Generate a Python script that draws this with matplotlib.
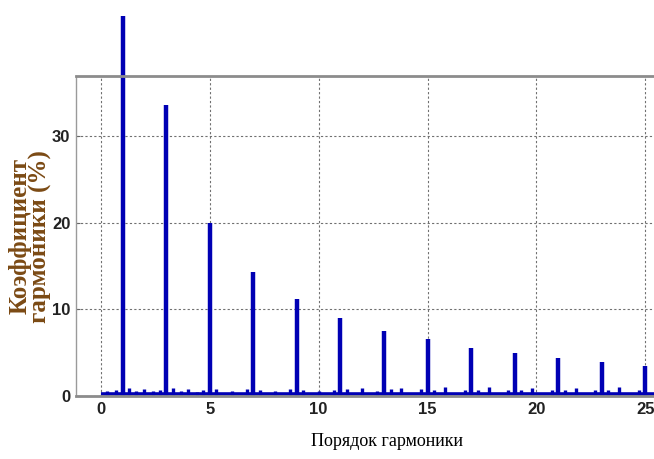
import matplotlib
matplotlib.use('Agg')
from matplotlib import pyplot as plt

# main (odd) harmonics
odd_orders = [1, 3, 5, 7, 9, 11, 13, 15, 17, 19, 21, 23, 25]
odd_values = [43.8, 33.6, 20.0, 14.3, 11.2, 9.0, 7.5, 6.6, 5.6, 5.0, 4.4, 3.9, 3.5]

# small components around the spectrum
small_orders = [0.3, 0.7, 1.3, 1.6, 2.0, 2.4, 2.7, 3.3, 3.7, 4.0, 4.4, 4.7, 5.3,
                6.0, 6.7, 7.3, 8.0, 8.7, 9.3, 10.0, 10.7, 11.3, 12.0, 12.7, 13.3,
                13.8, 14.7, 15.3, 15.8, 16.7, 17.3, 17.8, 18.7, 19.3, 19.8, 20.7,
                21.3, 21.8, 22.7, 23.3, 23.8, 24.7]
small_values = [0.6, 0.7, 0.9, 0.6, 0.8, 0.6, 0.7, 0.9, 0.6, 0.8, 0.5, 0.7, 0.8,
                0.6, 0.8, 0.7, 0.6, 0.8, 0.7, 0.6, 0.7, 0.8, 0.9, 0.6, 0.8,
                0.9, 0.8, 0.7, 1.0, 0.7, 0.7, 1.0, 0.7, 0.7, 0.9, 0.7,
                0.7, 0.9, 0.7, 0.7, 1.1, 0.7]
base_level = 0.2

x_ticks = [0, 5, 10, 15, 20, 25]
y_ticks = [0, 10, 20, 30]

blue = '#0000b4'

fig = plt.figure(figsize=(6.54, 4.59), dpi=100)
ax = fig.add_axes([0.116, 0.137, 0.884, 0.697])

ax.plot([0, 25.4], [base_level, base_level], color=blue, lw=2.6, solid_capstyle='butt')
ax.vlines(small_orders, 0, small_values, color=blue, lw=2.4)
ax.vlines(odd_orders, 0, odd_values, color=blue, lw=3.2, clip_on=False)

ax.set_xlim(-1.15, 25.4)
ax.set_ylim(0, 36.9)
ax.set_xticks(x_ticks)
ax.set_yticks(y_ticks)
ax.grid(True, linestyle=(0, (2, 2)), color='#707070', lw=0.8)
ax.set_axisbelow(True)

for s in ['top', 'bottom']:
    ax.spines[s].set_color('#8c8c8c')
    ax.spines[s].set_linewidth(2.0)
ax.spines['left'].set_color('#9a9a9a')
ax.spines['left'].set_linewidth(1.0)
ax.spines['right'].set_visible(False)

ax.tick_params(direction='in', length=3, color='#666666', labelsize=12, pad=4)
for lab in ax.get_xticklabels() + ax.get_yticklabels():
    lab.set_family(['Liberation Sans Narrow', 'Liberation Sans', 'DejaVu Sans'])
    lab.set_fontweight('bold')
    lab.set_color('#222222')

ax.set_xlabel('Порядок гармоники', family='Liberation Serif', fontsize=13,
              color='black')
ax.xaxis.set_label_coords(0.538, -0.115)
ax.set_ylabel('Коэффициент\nгармоники (%)', family='Liberation Serif', fontsize=18,
              fontweight='bold', color='#7b4a14', linespacing=0.82)
ax.yaxis.set_label_coords(-0.042, 0.5)

fig.savefig('out.png', dpi=100)
